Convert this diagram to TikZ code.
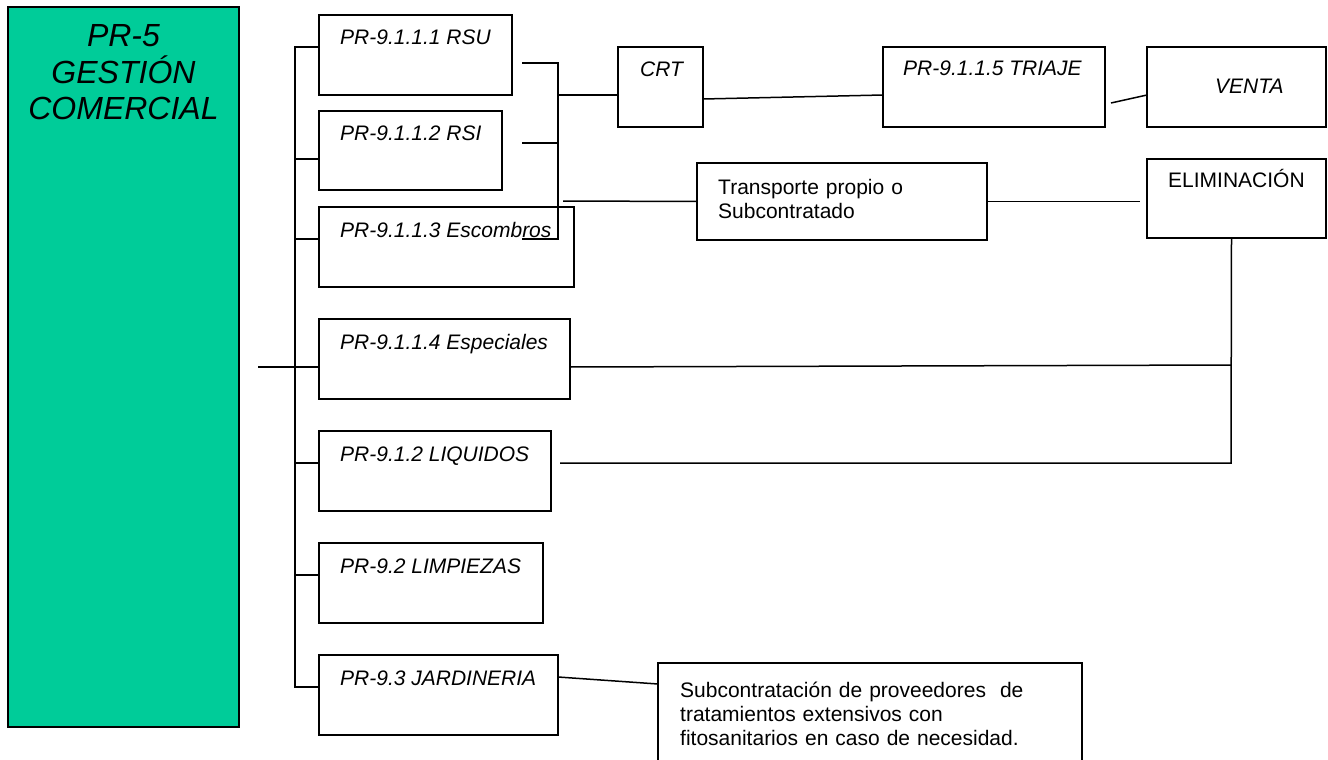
\documentclass[tikz,border=0pt]{standalone}
\usepackage{fontspec}
\setmainfont{Liberation Sans}
\usetikzlibrary{calc}
\definecolor{pgreen}{RGB}{0,204,153}
\begin{document}
\begin{tikzpicture}[x=1pt,y=-1pt,
  box/.style={draw=black,line width=1.8pt,rectangle,inner sep=0pt,outer sep=0pt,anchor=north west},
  lbl/.style={anchor=base west,inner sep=0pt,font=\fontsize{21}{24}\selectfont\itshape},
  plain/.style={anchor=base west,inner sep=0pt,font=\fontsize{21}{24}\selectfont},
  conn/.style={draw=black,line width=1.5pt}]
\useasboundingbox (0,0) rectangle (1328,760);
% main green box
\node[box,fill=pgreen,minimum width=231,minimum height=720] (pr5) at (8,7) {};
\node[anchor=base,inner sep=0pt,text width=231,align=center,font=\fontsize{32}{36.5}\selectfont\itshape] (pr5t) at (123.5,47) {PR-5\\GESTIÓN\\COMERCIAL};
% left column boxes
\node[box,minimum width=193,minimum height=80] (rsu) at (319,15) {};
\node[box,minimum width=183,minimum height=79] (rsi) at (319,111) {};
\node[box,minimum width=255,minimum height=80] (esc) at (319,207) {};
\node[box,minimum width=251,minimum height=80] (espc) at (319,319) {};
\node[box,minimum width=232,minimum height=80] (liq) at (319,431) {};
\node[box,minimum width=224,minimum height=80] (limp) at (319,543) {};
\node[box,minimum width=239,minimum height=80] (jard) at (319,655) {};
\node[lbl] (rsut) at (340,45) {PR-9.1.1.1 RSU};
\node[lbl] (rsit) at (340,140) {PR-9.1.1.2 RSI};
\node[lbl] (esct) at (340,237) {PR-9.1.1.3 Escombros};
\node[lbl] (espct) at (340,349) {PR-9.1.1.4 Especiales};
\node[lbl] (liqt) at (340,461) {PR-9.1.2 LIQUIDOS};
\node[lbl] (limpt) at (340,573) {PR-9.2 LIMPIEZAS};
\node[lbl] (jardt) at (340,685) {PR-9.3 JARDINERIA};
% other boxes
\node[box,minimum width=85,minimum height=80] (crt) at (618,47) {};
\node[box,minimum width=222,minimum height=80] (triaje) at (883,47) {};
\node[box,minimum width=179,minimum height=80] (venta) at (1147,47) {};
\node[box,minimum width=290,minimum height=77] (trans) at (697,163) {};
\node[box,minimum width=179,minimum height=79] (elim) at (1147,159) {};
\node[box,minimum width=424,minimum height=110] (subc) at (658,663) {};
\node[lbl] (crtt) at (640,77) {CRT};
\node[lbl] (triajet) at (903,76) {PR-9.1.1.5 TRIAJE};
\node[lbl] (ventat) at (1215,93) {VENTA};
\node[plain] (elimt) at (1168,187) {ELIMINACIÓN};
\node[plain,text width=260,align=left] (transt) at (718,194) {Transporte propio o\\Subcontratado};
\node[plain,text width=400,align=left] (subct) at (680,697) {Subcontratación de proveedores~ de\\tratamientos extensivos con\\fitosanitarios en caso de necesidad.};
% bus
\coordinate (b1) at (295,47);
\coordinate (b2) at (295,159);
\coordinate (b3) at (295,239);
\coordinate (b4) at (295,367);
\coordinate (b5) at (295,463);
\coordinate (b6) at (295,575);
\coordinate (b7) at (295,687);
\coordinate (s0) at (258,367);
\draw[conn] (b1 -| rsu.west) -- (b1) -- (b7) -- (b7 -| jard.west);
\draw[conn] (b2) -- (b2 -| rsi.west);
\draw[conn] (b3) -- (b3 -| esc.west);
\draw[conn] (s0) -- (b4) -- (b4 -| espc.west);
\draw[conn] (b5) -- (b5 -| liq.west);
\draw[conn] (b6) -- (b6 -| limp.west);
% gathering of RSU / RSI / Escombros
\coordinate (g1) at (522,63);
\coordinate (g2) at (522,143);
\coordinate (g3) at (522,239);
\coordinate (j1) at (558,63);
\coordinate (j2) at (558,95);
\coordinate (j3) at (558,239);
\coordinate (t0) at (563,201);
\draw[conn] (g1) -- (j1) -- (j3) -- (g3);
\draw[conn] (g2) -- (g2 -| j1);
\draw[conn] (j2) -- (j2 -| crt.west);
\draw[conn] (t0) -- (trans.west);
% chain to the right
\draw[conn] ($(crt.east)+(0,12)$) -- ($(triaje.west)+(0,8)$);
\draw[conn] ($(triaje.east)+(6,16)$) -- ($(venta.west)+(0,8)$);
\draw[conn] (trans.east) -- ($(elim.west)+(-7,3)$);
% elimination collector
\coordinate (e1) at ($(elim.south)+(-5,0)$);
\coordinate (e3) at (1231,365);
\coordinate (e2) at (1231,463);
\coordinate (l0) at (560,463);
\draw[conn] (e1) -- (e2) -- (l0);
\draw[conn] ($(espc.east)+(0,8)$) -- (e3);
% jardineria
\draw[conn] ($(jard.east)+(0,-18)$) -- ($(subc.north west)+(0,21)$);
\end{tikzpicture}
\end{document}
